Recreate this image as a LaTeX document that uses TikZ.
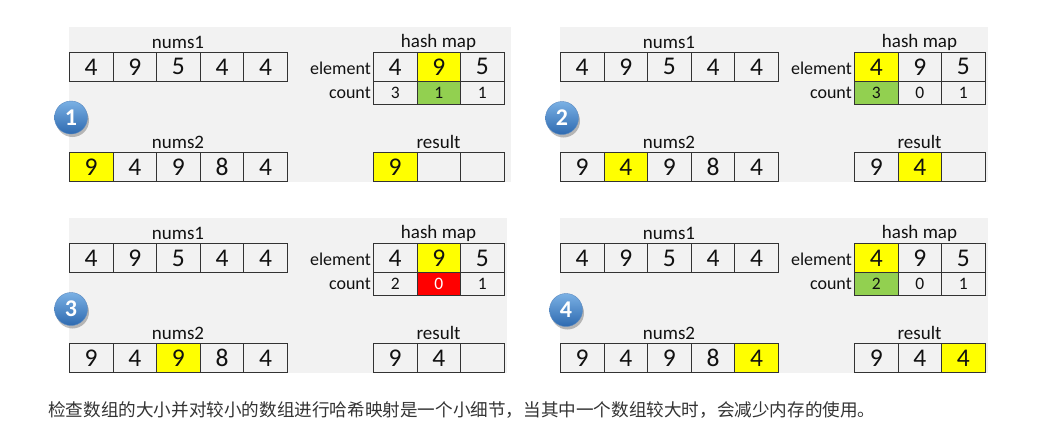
\documentclass[tikz,border=0pt]{standalone}
\usepackage{fontspec}
\setmainfont{Carlito}
\newfontfamily\cjk{Noto Sans CJK SC}
\usetikzlibrary{shadows}
\definecolor{bggray}{HTML}{F2F2F2}
\definecolor{cg}{HTML}{F2F2F2}
\definecolor{cy}{HTML}{FFFF00}
\definecolor{cgr}{HTML}{92D050}
\definecolor{cr}{HTML}{FF0000}
\definecolor{txt}{HTML}{333333}
\definecolor{celltxt}{HTML}{111111}
\definecolor{badgetop}{HTML}{7AB0E4}
\definecolor{badgebot}{HTML}{2E6AB0}
\newcommand\fs[1]{\fontsize{#1}{#1}\selectfont}
\tikzset{
  cell/.style={draw=black!80, line width=0.8pt, inner sep=0pt, minimum width=43.6pt, anchor=north west},
  lbl/.style={font=\fs{19}, text=celltxt, inner sep=0pt},
  rowlbl/.style={font=\fs{18}, text=celltxt, inner sep=0pt, anchor=east},
  badge/.style={circle, minimum size=33pt, inner sep=0pt, top color=badgetop, bottom color=badgebot,
     draw=badgebot!80, line width=0.4pt, text=white, font=\bfseries\fs{24},
     drop shadow={shadow xshift=1.5pt, shadow yshift=-3pt, opacity=0.25, fill=black}},
}
% #1 name, #2 x, #3 y top, #4 height, #5 font size, #6 list value/fill/textcolor
\newcommand\cellrow[6]{%
  \foreach[count=\i] \v/\f/\c in {#6} {
    \node[cell, fill=\f, text=\c, minimum height=#4pt, font=\fs{#5}] (#1-\i) at ({#2+(\i-1)*43.6}, #3) {\v};
  }}
\begin{document}
\begin{tikzpicture}[x=1pt, y=-1pt]
\useasboundingbox (0,0) rectangle (1043,437);
% ---------- panel 1 ----------
\fill[bggray] (69,27) rectangle (511,182);
\node[lbl] (p1-l1) at (178,42) {nums1};
\node[lbl] (p1-l2) at (438.5,42) {hash map};
\node[lbl] (p1-l3) at (178,142) {nums2};
\node[lbl] (p1-l4) at (438.5,142) {result};
\node[rowlbl] (p1-e) at (371,68) {element};
\node[rowlbl] (p1-c) at (371,93) {count};
\cellrow{p1n1}{69}{52}{29}{25.5}{4/cg/celltxt,9/cg/celltxt,5/cg/celltxt,4/cg/celltxt,4/cg/celltxt}
\cellrow{p1he}{373}{52}{29}{25.5}{4/cg/celltxt,9/cy/celltxt,5/cg/celltxt}
\cellrow{p1hc}{373}{81}{23}{17.5}{3/cg/celltxt,1/cgr/celltxt,1/cg/celltxt}
\cellrow{p1n2}{69}{152}{29}{25.5}{9/cy/celltxt,4/cg/celltxt,9/cg/celltxt,8/cg/celltxt,4/cg/celltxt}
\cellrow{p1r}{373}{152}{29}{25.5}{9/cy/celltxt,{}/cg/celltxt,{}/cg/celltxt}
\node[badge] (b1) at (71,117.5) {1};
% ---------- panel 2 ----------
\fill[bggray] (560,27) rectangle (988,182);
\node[lbl] (p2-l1) at (669,42) {nums1};
\node[lbl] (p2-l2) at (919.5,42) {hash map};
\node[lbl] (p2-l3) at (669,142) {nums2};
\node[lbl] (p2-l4) at (919.5,142) {result};
\node[rowlbl] (p2-e) at (852,68) {element};
\node[rowlbl] (p2-c) at (852,93) {count};
\cellrow{p2n1}{560}{52}{29}{25.5}{4/cg/celltxt,9/cg/celltxt,5/cg/celltxt,4/cg/celltxt,4/cg/celltxt}
\cellrow{p2he}{854}{52}{29}{25.5}{4/cy/celltxt,9/cg/celltxt,5/cg/celltxt}
\cellrow{p2hc}{854}{81}{23}{17.5}{3/cgr/celltxt,0/cg/celltxt,1/cg/celltxt}
\cellrow{p2n2}{560}{152}{29}{25.5}{9/cg/celltxt,4/cy/celltxt,9/cg/celltxt,8/cg/celltxt,4/cg/celltxt}
\cellrow{p2r}{854}{152}{29}{25.5}{9/cg/celltxt,4/cy/celltxt,{}/cg/celltxt}
\node[badge] (b2) at (562,118) {2};
% ---------- panel 3 ----------
\fill[bggray] (69,218) rectangle (507,373);
\node[lbl] (p3-l1) at (178,233) {nums1};
\node[lbl] (p3-l2) at (438.5,233) {hash map};
\node[lbl] (p3-l3) at (178,333) {nums2};
\node[lbl] (p3-l4) at (438.5,333) {result};
\node[rowlbl] (p3-e) at (371,259) {element};
\node[rowlbl] (p3-c) at (371,284) {count};
\cellrow{p3n1}{69}{243}{29}{25.5}{4/cg/celltxt,9/cg/celltxt,5/cg/celltxt,4/cg/celltxt,4/cg/celltxt}
\cellrow{p3he}{373}{243}{29}{25.5}{4/cg/celltxt,9/cy/celltxt,5/cg/celltxt}
\cellrow{p3hc}{373}{272}{23}{17.5}{2/cg/celltxt,0/cr/white,1/cg/celltxt}
\cellrow{p3n2}{69}{343}{29}{25.5}{9/cg/celltxt,4/cg/celltxt,9/cy/celltxt,8/cg/celltxt,4/cg/celltxt}
\cellrow{p3r}{373}{343}{29}{25.5}{9/cg/celltxt,4/cg/celltxt,{}/cg/celltxt}
\node[badge] (b3) at (71,309) {3};
% ---------- panel 4 ----------
\fill[bggray] (560,218) rectangle (988,373);
\node[lbl] (p4-l1) at (669,233) {nums1};
\node[lbl] (p4-l2) at (919.5,233) {hash map};
\node[lbl] (p4-l3) at (669,333) {nums2};
\node[lbl] (p4-l4) at (919.5,333) {result};
\node[rowlbl] (p4-e) at (852,259) {element};
\node[rowlbl] (p4-c) at (852,284) {count};
\cellrow{p4n1}{560}{243}{29}{25.5}{4/cg/celltxt,9/cg/celltxt,5/cg/celltxt,4/cg/celltxt,4/cg/celltxt}
\cellrow{p4he}{854}{243}{29}{25.5}{4/cy/celltxt,9/cg/celltxt,5/cg/celltxt}
\cellrow{p4hc}{854}{272}{23}{17.5}{2/cgr/celltxt,0/cg/celltxt,1/cg/celltxt}
\cellrow{p4n2}{560}{343}{29}{25.5}{9/cg/celltxt,4/cg/celltxt,9/cg/celltxt,8/cg/celltxt,4/cy/celltxt}
\cellrow{p4r}{854}{343}{29}{25.5}{9/cg/celltxt,4/cg/celltxt,4/cy/celltxt}
\node[badge] (b4) at (566,310) {4};
% ---------- caption ----------
\node[anchor=west, inner sep=0pt, text=txt, font=\cjk\fs{17.6}] (caption) at (48,410)
  {检查数组的大小并对较小的数组进行哈希映射是一个小细节，当其中一个数组较大时，会减少内存的使用。};
\end{tikzpicture}
\end{document}
